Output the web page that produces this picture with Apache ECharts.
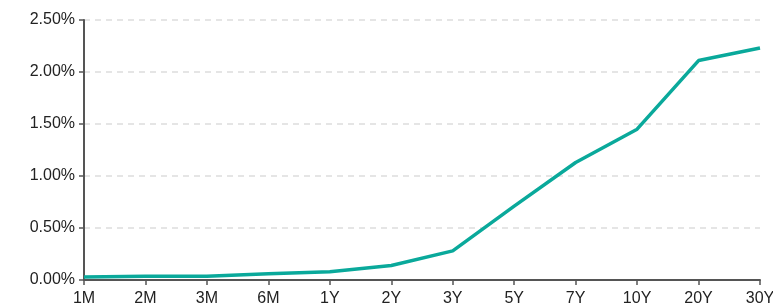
<!DOCTYPE html>
<html>
<head>
<meta charset="utf-8">
<script src="https://cdn.jsdelivr.net/npm/echarts@6/dist/echarts.min.js"></script>
<style>
  html, body { margin: 0; padding: 0; background: #fff; }
  #chart { width: 773px; height: 306px; }
</style>
</head>
<body>
<div id="chart"></div>
<script>
// yield curve tenors
const tenors = ['1M', '2M', '3M', '6M', '1Y', '2Y', '3Y', '5Y', '7Y', '10Y', '20Y', '30Y']
// yields in percent
const yields = [0.03, 0.035, 0.035, 0.06, 0.08, 0.14, 0.28, 0.71, 1.13, 1.45, 2.11, 2.23]

const axisColor = '#555'
const labelFont = { color: '#222', fontSize: 16, fontFamily: 'Liberation Sans, Arial, sans-serif' }

const chart = echarts.init(document.getElementById('chart'))
chart.setOption({
  animation: false,
  grid: { left: 84, right: 13, top: 20, bottom: 26, containLabel: false, outerBoundsMode: 'none' },
  xAxis: {
    type: 'category',
    data: tenors,
    boundaryGap: false,
    axisLine: { lineStyle: { color: axisColor, width: 2 } },
    axisTick: { alignWithLabel: true, length: 5, lineStyle: { color: axisColor, width: 1.5 } },
    axisLabel: Object.assign({ margin: 11, interval: 0 }, labelFont),
    splitLine: { show: false }
  },
  yAxis: {
    type: 'value',
    min: 0,
    max: 2.5,
    interval: 0.5,
    axisLine: { show: true, lineStyle: { color: axisColor, width: 2 } },
    axisTick: { show: true, length: 5, lineStyle: { color: axisColor, width: 1.5 } },
    axisLabel: Object.assign({
      margin: 9,
      formatter: v => v.toFixed(2) + '%'
    }, labelFont),
    splitLine: { lineStyle: { color: '#ddd', type: [6, 5], width: 1.5 } }
  },
  series: [{
    type: 'line',
    data: yields,
    symbol: 'none',
    lineStyle: { color: '#0aa99b', width: 3.5 }
  }]
})
</script>
</body>
</html>
